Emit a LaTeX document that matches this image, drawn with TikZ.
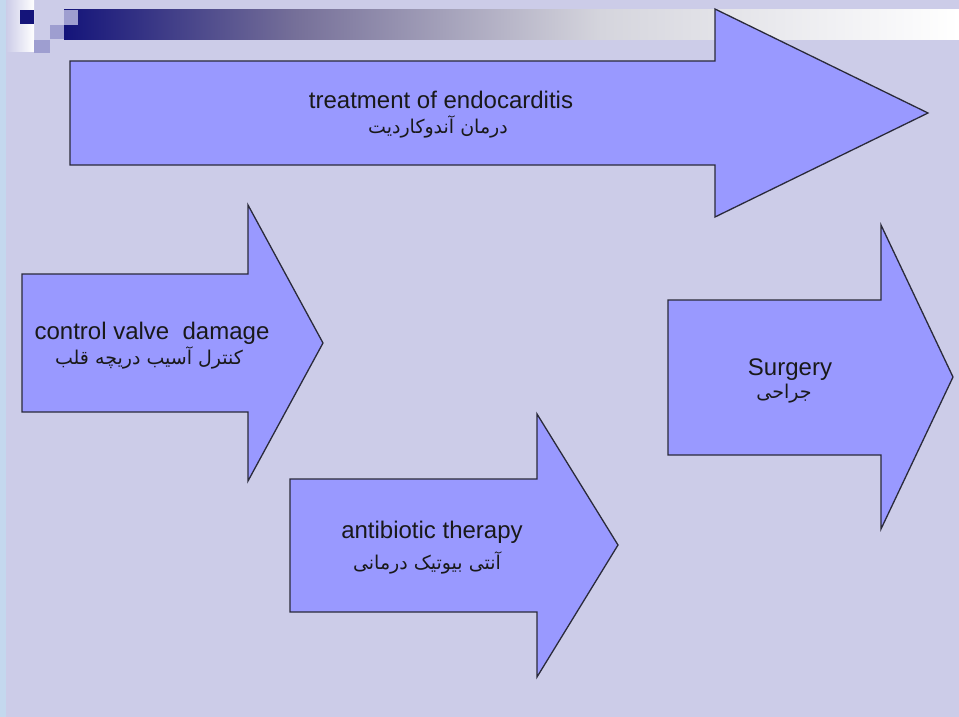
\documentclass[tikz,border=0pt]{standalone}
\usepackage{fontspec}
\setmainfont{Liberation Sans}
\newfontfamily\fa[Script=Arabic]{DejaVu Sans}
\TeXXeTstate=1
\definecolor{slidebg}{HTML}{CCCCE8}
\definecolor{edgestrip}{HTML}{C4D8EE}
\definecolor{navy}{HTML}{14147A}
\definecolor{tilelight}{HTML}{9E9ED0}
\definecolor{arrowfill}{HTML}{9999FF}
\definecolor{arrowline}{HTML}{2A2A3A}
\definecolor{midgrey}{HTML}{767099}
\definecolor{lightgrey}{HTML}{D5D5DD}
% the path is mapped onto the middle 25bp--75bp of the shading
\pgfdeclarehorizontalshading{titlebar}{100bp}{%
  color(0bp)=(navy); color(25bp)=(navy); color(38bp)=(midgrey);
  color(55bp)=(lightgrey); color(75bp)=(white); color(100bp)=(white)}
\begin{document}
\begin{tikzpicture}[x=1pt,y=-1pt,
  flowarrow/.style={fill=arrowfill,draw=arrowline,line width=1.3pt,line join=miter},
  entext/.style={anchor=base,inner sep=0pt,font=\fontsize{24}{28}\selectfont,text=black!90},
  fatext/.style={anchor=base,inner sep=0pt,font=\fa\fontsize{19}{22}\selectfont,text=black!90}]
  % slide background
  \fill[slidebg] (0,0) rectangle (959,717);
  \useasboundingbox (0,0) rectangle (959,717);
  \fill[edgestrip] (0,0) rectangle (6,717);
  % title decoration
  \shade[left color=slidebg,right color=white] (6,0) rectangle (34,52);
  \shade[shading=titlebar] (64,10) rectangle (959,40);
  \fill[navy] (20,10) rectangle (34,24);
  \fill[tilelight] (64,10) rectangle (78,25);
  \fill[tilelight] (50,25) rectangle (64,39);
  \fill[tilelight] (34,40) rectangle (50,53);

  % arrows
  \draw[flowarrow] (70,61) -- (715,61) -- (715,9) -- (928,113) -- (715,217) -- (715,165) -- (70,165) -- cycle;
  \draw[flowarrow] (22,274) -- (248,274) -- (248,205) -- (323,343) -- (248,481) -- (248,412) -- (22,412) -- cycle;
  \draw[flowarrow] (668,300) -- (881,300) -- (881,225) -- (953,377) -- (881,529) -- (881,455) -- (668,455) -- cycle;
  \draw[flowarrow] (290,479) -- (537,479) -- (537,414) -- (618,545) -- (537,677) -- (537,612) -- (290,612) -- cycle;

  % labels
  \node[entext] (t1) at (441,108) {treatment of endocarditis};
  \node[fatext] (p1) at (438,133) {\beginR درمان آندوکاردیت\endR};
  \node[entext] (t2) at (152,339) {control valve\ \ damage};
  \node[fatext] (p2) at (149,364) {\beginR کنترل آسیب دریچه قلب\endR};
  \node[entext] (t3) at (790,375) {Surgery};
  \node[fatext] (p3) at (784,398) {\beginR جراحی\endR};
  \node[entext] (t4) at (432,538) {antibiotic therapy};
  \node[fatext] (p4) at (427,569) {\beginR آنتی بیوتیک درمانی\endR};
\end{tikzpicture}
\end{document}
